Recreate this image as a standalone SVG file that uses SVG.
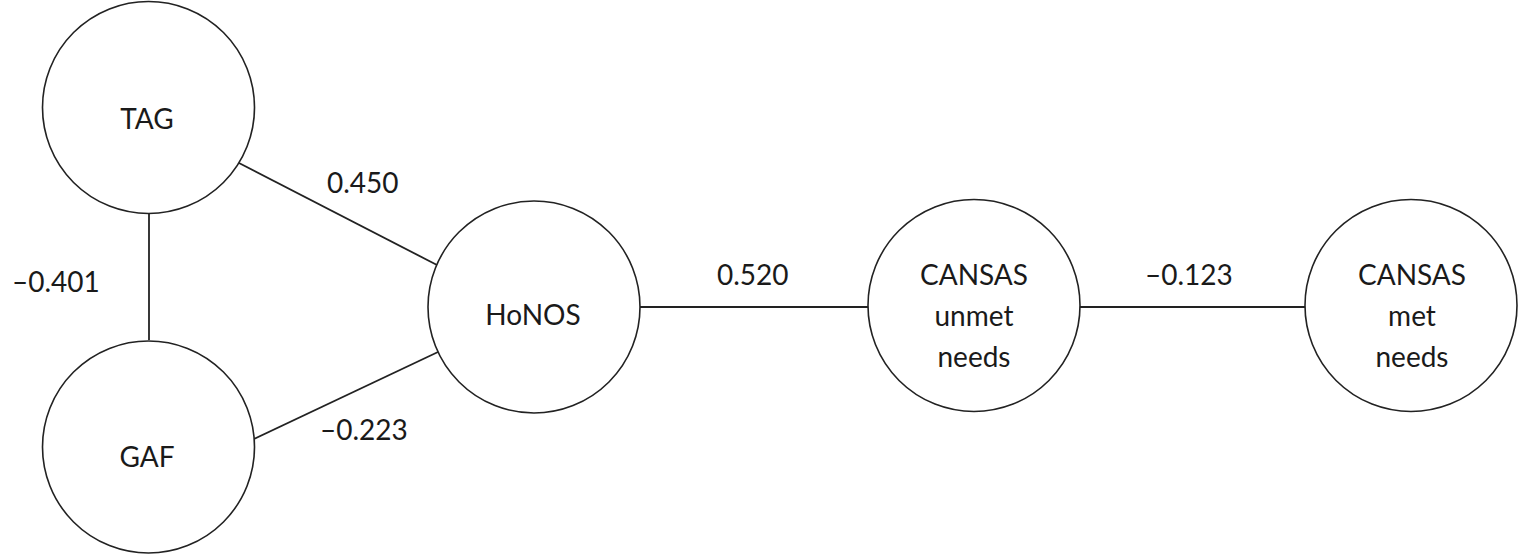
<svg xmlns="http://www.w3.org/2000/svg" width="1518" height="557" viewBox="0 0 1518 557">
<style>
.node{fill:#fff;stroke:#222;stroke-width:1.6}
.edge{stroke:#222;stroke-width:1.8;fill:none}
text{font-family:Lato,"Liberation Sans",sans-serif;font-size:28px;fill:#1a1a1a}
.c{text-anchor:middle}
</style>
<rect width="1518" height="557" fill="#fff"/>
<g id="connectors">
<line class="edge" x1="149" y1="214" x2="149" y2="340"/>
<line class="edge" x1="239" y1="163" x2="437" y2="265"/>
<line class="edge" x1="254" y1="439" x2="438" y2="352"/>
<line class="edge" x1="640" y1="307" x2="869" y2="307"/>
<line class="edge" x1="1079" y1="307" x2="1305" y2="307"/>
<text x="12" y="292">–0.401</text>
<text x="327" y="193">0.450</text>
<text x="320" y="440">–0.223</text>
<text x="717" y="285">0.520</text>
<text x="1145" y="285">–0.123</text>
</g>
<g id="TAG">
<circle class="node" cx="148.5" cy="107.5" r="106"/>
<text class="c" x="147" y="129">TAG</text>
</g>
<g id="GAF">
<circle class="node" cx="148.5" cy="447" r="106"/>
<text class="c" x="147" y="467">GAF</text>
</g>
<g id="HoNOS">
<circle class="node" cx="534" cy="307" r="106"/>
<text class="c" x="533" y="325">HoNOS</text>
</g>
<g id="CANSAS_unmet">
<circle class="node" cx="974" cy="305.5" r="106"/>
<text class="c" x="974" y="285">CANSAS</text>
<text class="c" x="974" y="326">unmet</text>
<text class="c" x="974" y="367">needs</text>
</g>
<g id="CANSAS_met">
<circle class="node" cx="1411" cy="305.5" r="106"/>
<text class="c" x="1412" y="285">CANSAS</text>
<text class="c" x="1412" y="326">met</text>
<text class="c" x="1412" y="367">needs</text>
</g>
</svg>
